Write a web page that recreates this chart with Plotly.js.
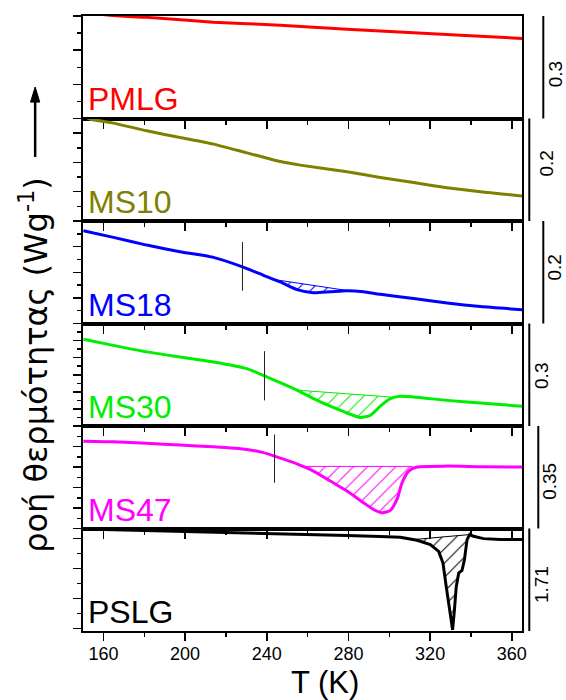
<!DOCTYPE html>
<html>
<head>
<meta charset="utf-8">
<script src="https://cdn.plot.ly/plotly-3.0.1.min.js"></script>
<style>html,body{margin:0;padding:0;background:#fff;}#chart{width:566px;height:700px;}</style>
</head>
<body>
<div id="chart"></div>
<script>
// ---------- data (T in K, heat flow in W/g, relative offsets per panel) ----------
const sampleNames = ['PMLG', 'MS10', 'MS18', 'MS30', 'MS47', 'PSLG'];
const scaleVals = [0.3, 0.2, 0.2, 0.3, 0.35, 1.71];
const xTickVals = [160, 200, 240, 280, 320, 360];

const T_PMLG = [150, 163.2, 181.2, 213.9, 246.6, 279.3, 311.9, 344.6, 365];
const Q_PMLG = [0.313, 0.302, 0.296, 0.282, 0.273, 0.261, 0.251, 0.241, 0.234];

const T_MS10 = [150, 153.4, 164.9, 181.2, 197.5, 213.9, 230.2, 246.6, 256.4, 279.3, 295.6, 311.9, 328.3, 344.6, 365];
const Q_MS10 = [0.205, 0.199, 0.191, 0.176, 0.163, 0.150, 0.133, 0.116, 0.109, 0.096, 0.085, 0.075, 0.065, 0.057, 0.049];

const T_MS18 = [150.2, 164.9, 181.2, 197.5, 213.9, 228.1, 238.4, 246.6, 254.8, 262.9, 271.1, 279.3, 287.4, 295.6, 311.9, 328.3, 344.6, 365];
const Q_MS18 = [0.181, 0.168, 0.153, 0.140, 0.129, 0.1105, 0.094, 0.081, 0.066, 0.060, 0.062, 0.064, 0.062, 0.057, 0.049, 0.040, 0.033, 0.027];

const T_MS30 = [150.2, 164.9, 181.2, 197.5, 213.9, 230.2, 238.9, 246.6, 254.8, 262.9, 271.1, 279.3, 285.8, 290.7, 295.6, 300.5, 305.4, 311.9, 328.3, 344.6, 365];
const Q_MS30 = [0.254, 0.236, 0.217, 0.202, 0.1875, 0.168, 0.1465, 0.127, 0.105, 0.080, 0.058, 0.038, 0.025, 0.031, 0.058, 0.080, 0.087, 0.085, 0.075, 0.067, 0.058];

const T_MS47 = [150.2, 164.9, 181.2, 197.5, 213.9, 230.2, 238.4, 243.8, 254.7, 262.9, 271.1, 279.3, 287.4, 292.3, 296.4, 300.5, 303.8, 306.2, 309.5, 313.6, 328.3, 344.6, 365];
const Q_MS47 = [0.298, 0.296, 0.291, 0.285, 0.279, 0.270, 0.259, 0.247, 0.221, 0.196, 0.162, 0.128, 0.088, 0.065, 0.054, 0.062, 0.100, 0.155, 0.196, 0.210, 0.213, 0.211, 0.210];

const T_PSLG = [150.2, 181.2, 213.9, 246.6, 279.3, 295.6, 305.4, 313.6, 320.1, 324.2, 326.3, 327.9, 329.6, 331.0, 331.9, 332.8, 334.0, 335.6, 336.8, 338.1, 339.4, 341.3, 346.2, 354.4, 365];
const Q_PSLG = [1.700, 1.676, 1.654, 1.626, 1.592, 1.578, 1.565, 1.513, 1.441, 1.328, 1.133, 0.740, 0.348, 0.020, 0.348, 0.740, 0.965, 1.009, 1.188, 1.525, 1.609, 1.580, 1.541, 1.525, 1.525];

// hatched-area baselines (T endpoints, Q endpoints)
const BASE_T = [null, null, [245, 280], [254.8, 300.5], [258, 311.5], [311.8, 339.4]];
const BASE_Q = [null, null, [0.085, 0.064], [0.105, 0.085], [0.212, 0.212], [1.525, 1.609]];

// glass-transition marker positions and their vertical extents
const TG_T = [null, null, 228.1, 238.9, 243.8, null];
const TG_Q = [null, null, [0.064, 0.159], [0.075, 0.219], [0.156, 0.321], null];

// ---------- styles ----------
const colors = ['#ff0000', '#808000', '#0000ff', '#00ee00', '#ff00ff', '#000000'];
const curveShape = ['spline', 'spline', 'spline', 'spline', 'spline', 'linear'];
const yTick = [
  {tick0: 0, dtick: 0.1, minor: 0.05},
  {tick0: 0, dtick: 0.2 / 3.5, minor: 0.2 / 7},
  {tick0: 0, dtick: 0.05, minor: 0.025},
  {tick0: 0, dtick: 0.05, minor: 0.025},
  {tick0: 0, dtick: 0.07, minor: 0.035},
  {tick0: 0.04, dtick: 0.5, minor: 0.25}
];
const scaleBarX = [1.0485, 1.0166, 1.0485, 1.0166, 1.0371, 1.0166];
const scaleLabX = [1.075, 1.057, 1.075, 1.046, 1.064, 1.046];
const scaleLabY = [0.43, 0.56, 0.545, 0.49, 0.456, 0.45];
const FONT = 'Arial, "Liberation Sans", sans-serif';

const Ts = [T_PMLG, T_MS10, T_MS18, T_MS30, T_MS47, T_PSLG];
const Qs = [Q_PMLG, Q_MS10, Q_MS18, Q_MS30, Q_MS47, Q_PSLG];

function interp(T, Q, t) {
  for (let i = 0; i < T.length - 1; i++) {
    if (t >= T[i] && t <= T[i + 1]) {
      const f = (t - T[i]) / (T[i + 1] - T[i]);
      return Q[i] + f * (Q[i + 1] - Q[i]);
    }
  }
  return Q[Q.length - 1];
}

const traces = [];
const layout = {
  width: 566, height: 700,
  margin: {l: 83, r: 44, t: 16, b: 69},
  paper_bgcolor: '#fff', plot_bgcolor: '#fff',
  showlegend: false,
  font: {family: FONT, color: '#000'},
  annotations: [], shapes: []
};

for (let k = 0; k < 6; k++) {
  const n = k + 1;
  const xa = n === 1 ? 'x' : 'x' + n;
  const ya = n === 1 ? 'y' : 'y' + n;
  const yDom = ya + ' domain';
  const T = Ts[k], Q = Qs[k], c = colors[k];

  // hatched area
  if (BASE_T[k]) {
    const bt = BASE_T[k], bq = BASE_Q[k];
    traces.push({x: bt, y: bq, xaxis: xa, yaxis: ya, mode: 'lines',
      line: {color: c, width: 1}, hoverinfo: 'skip'});
    const sx = [bt[0]], sy = [interp(T, Q, bt[0])];
    for (let i = 0; i < T.length; i++) {
      if (T[i] > bt[0] && T[i] < bt[1]) { sx.push(T[i]); sy.push(Q[i]); }
    }
    sx.push(bt[1]); sy.push(interp(T, Q, bt[1]));
    traces.push({x: sx, y: sy, xaxis: xa, yaxis: ya, mode: 'lines',
      line: {color: c, width: 0.5, shape: curveShape[k], smoothing: 0.6},
      fill: 'tonexty', fillcolor: 'rgba(0,0,0,0)',
      fillpattern: {shape: '/', fgcolor: c, bgcolor: 'rgba(0,0,0,0)', size: 10, solidity: 0.1},
      hoverinfo: 'skip'});
  }
  // main curve
  traces.push({x: T, y: Q, xaxis: xa, yaxis: ya, mode: 'lines', name: sampleNames[k],
    line: {color: c, width: 3, shape: curveShape[k], smoothing: 0.6}});
  // Tg marker
  if (TG_T[k] !== null) {
    traces.push({x: [TG_T[k], TG_T[k]], y: TG_Q[k], xaxis: xa, yaxis: ya, mode: 'lines',
      line: {color: '#222', width: 1}, hoverinfo: 'skip'});
  }

  const domTop = (6 - k) / 6, domBot = (5 - k) / 6;
  layout['xaxis' + (n === 1 ? '' : n)] = {
    domain: [0, 1], anchor: ya, range: [150, 365],
    showline: true, linecolor: '#000', linewidth: 2, mirror: true,
    showgrid: false, zeroline: false,
    ticks: 'outside', ticklen: 8, tickwidth: 1.5, tickcolor: '#000',
    tickmode: 'array', tickvals: xTickVals, ticktext: xTickVals.map(String),
    ticklabelstandoff: -3,
    minor: {ticks: 'outside', dtick: 20, tick0: 160, ticklen: 4, tickwidth: 1.5, tickcolor: '#000', showgrid: false},
    showticklabels: k === 5,
    tickfont: {size: 18, family: FONT, color: '#000'}
  };
  const yt = yTick[k];
  layout['yaxis' + (n === 1 ? '' : n)] = {
    domain: [domBot, domTop], anchor: xa, range: [0, scaleVals[k]],
    showline: true, linecolor: '#000', linewidth: 2, mirror: true,
    showgrid: false, zeroline: false, showticklabels: false,
    ticks: 'outside', tick0: yt.tick0, dtick: yt.dtick, ticklen: 8, tickwidth: 1.5, tickcolor: '#000',
    minor: {ticks: 'outside', tick0: yt.tick0, dtick: yt.minor, ticklen: 4, tickwidth: 1.5, tickcolor: '#000', showgrid: false}
  };

  // sample label
  layout.annotations.push({text: sampleNames[k], xref: 'paper', yref: yDom, x: 0.007, y: 0,
    xanchor: 'left', yanchor: 'bottom', yshift: -1, showarrow: false,
    font: {size: 32, color: c, family: FONT}});
  // scale bar + label
  layout.shapes.push({type: 'line', xref: 'paper', yref: yDom, x0: scaleBarX[k], x1: scaleBarX[k],
    y0: 0, y1: 1, line: {color: '#000', width: 2}});
  layout.annotations.push({text: String(scaleVals[k]), xref: 'paper', yref: yDom,
    x: scaleLabX[k], y: scaleLabY[k], xanchor: 'center', yanchor: 'middle', textangle: -90,
    borderpad: 0, showarrow: false, font: {size: 19, color: '#000', family: FONT}});
}

// axis titles
layout.annotations.push({text: 'T (K)', xref: 'paper', yref: 'paper', x: 0.551, y: 0,
  xanchor: 'center', yanchor: 'top', yshift: -33, borderpad: 0, showarrow: false,
  font: {size: 31, color: '#000', family: FONT}});
layout.annotations.push({text: 'ροή θερμότητας (Wg<sup>-1</sup>)', xref: 'paper', yref: 'paper',
  x: -0.112, y: 0.4325, xanchor: 'center', yanchor: 'middle', textangle: -90, showarrow: false,
  font: {size: 32, color: '#000', family: '"DejaVu Sans", sans-serif'}});

// upward arrow beside the y title (shaft + head, in paper coordinates)
const arrowX = -0.109;
layout.shapes.push({type: 'line', xref: 'paper', yref: 'paper', x0: arrowX, x1: arrowX,
  y0: 0.7708, y1: 0.865, line: {color: '#000', width: 2.5}});
layout.shapes.push({type: 'path', xref: 'paper', yref: 'paper',
  path: `M ${arrowX - 0.0105},0.860 L ${arrowX + 0.0105},0.860 L ${arrowX},0.8846 Z`,
  fillcolor: '#000', line: {color: '#000', width: 1}});

Plotly.newPlot('chart', traces, layout, {staticPlot: true, displayModeBar: false});
</script>
</body>
</html>
